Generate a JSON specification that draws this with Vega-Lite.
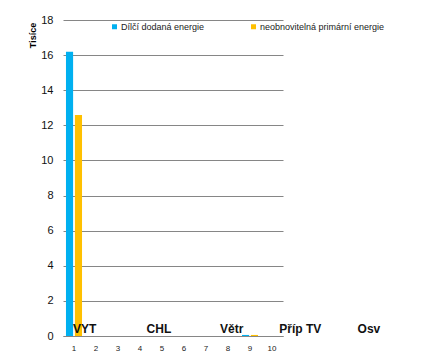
{
  "$schema": "https://vega.github.io/schema/vega-lite/v6.json",
  "width": 220,
  "height": 316,
  "autosize": "none",
  "padding": {"left": 63, "top": 20, "right": 159, "bottom": 22},
  "background": "white",
  "config": {
    "font": "Liberation Sans",
    "view": {"stroke": null},
    "axis": {"labelFont": "Liberation Sans", "titleFont": "Liberation Sans"}
  },
  "datasets": {
    "bars": [
      {"kat": "1", "serie": "Dílčí dodaná energie", "hodnota": 16.19},
      {"kat": "1", "serie": "neobnovitelná primární energie", "hodnota": 12.59},
      {"kat": "9", "serie": "Dílčí dodaná energie", "hodnota": 0.06},
      {"kat": "9", "serie": "neobnovitelná primární energie", "hodnota": 0.06}
    ],
    "labels": [
      {"pozice": 0.95, "y": 0.17, "text": "VYT"},
      {"pozice": 4.3, "y": 0.17, "text": "CHL"},
      {"pozice": 7.64, "y": 0.17, "text": "Větr"},
      {"pozice": 10.33, "y": 0.17, "text": "Příp TV"},
      {"pozice": 13.89, "y": 0.17, "text": "Osv"}
    ]
  },
  "layer": [
    {
      "data": {"name": "bars"},
      "mark": {"type": "bar"},
      "encoding": {
        "x": {
          "field": "kat", "type": "nominal",
          "scale": {"domain": ["1","2","3","4","5","6","7","8","9","10"], "paddingInner": 0.27, "paddingOuter": 0.135},
          "axis": {"title": null, "labelAngle": 0, "ticks": false, "labelFontSize": 8, "labelColor": "#222", "labelPadding": 8, "domainColor": "#868686", "domainWidth": 1}
        },
        "xOffset": {
          "field": "serie", "type": "nominal",
          "scale": {"paddingInner": 0.2}
        },
        "y": {
          "field": "hodnota", "type": "quantitative",
          "scale": {"domain": [0, 18], "nice": false},
          "axis": {
            "title": "Tisíce", "titleFontSize": 9, "titleFontWeight": "bold", "titleColor": "#000",
            "titleX": -31, "titleY": 15, "titleAlign": "center", "titleBaseline": "middle", "titleAngle": 270,
            "values": [0,2,4,6,8,10,12,14,16,18], "labelOverlap": false,
            "labelFontSize": 11, "labelColor": "#111", "labelPadding": 10,
            "ticks": false, "domain": false,
            "gridColor": "#868686", "gridWidth": 1
          }
        },
        "color": {
          "field": "serie", "type": "nominal",
          "scale": {"domain": ["Dílčí dodaná energie", "neobnovitelná primární energie"], "range": ["#00B0F0", "#FFC000"]},
          "legend": {
            "title": null, "orient": "none", "legendX": 47, "legendY": 2, "direction": "horizontal",
            "symbolType": "square", "symbolSize": 25, "symbolStrokeWidth": 0,
            "labelFontSize": 9, "labelColor": "#222", "labelOffset": 2, "columnPadding": 44
          }
        }
      }
    },
    {
      "data": {"name": "labels"},
      "mark": {"type": "text", "align": "left", "baseline": "alphabetic", "fontSize": 12, "fontWeight": "bold", "color": "#111"},
      "encoding": {
        "x": {"field": "pozice", "type": "quantitative", "scale": {"domain": [0.5, 10.5], "nice": false, "zero": false}, "axis": null},
        "y": {
          "field": "y", "type": "quantitative",
          "axis": {
            "title": "Tisíce", "titleFontSize": 9, "titleFontWeight": "bold", "titleColor": "#000",
            "titleX": -31, "titleY": 15, "titleAlign": "center", "titleBaseline": "middle", "titleAngle": 270,
            "values": [0,2,4,6,8,10,12,14,16,18], "labelOverlap": false,
            "labelFontSize": 11, "labelColor": "#111", "labelPadding": 10,
            "ticks": false, "domain": false,
            "gridColor": "#868686", "gridWidth": 1
          }
        },
        "text": {"field": "text"}
      }
    }
  ],
  "resolve": {"scale": {"x": "independent"}}
}
